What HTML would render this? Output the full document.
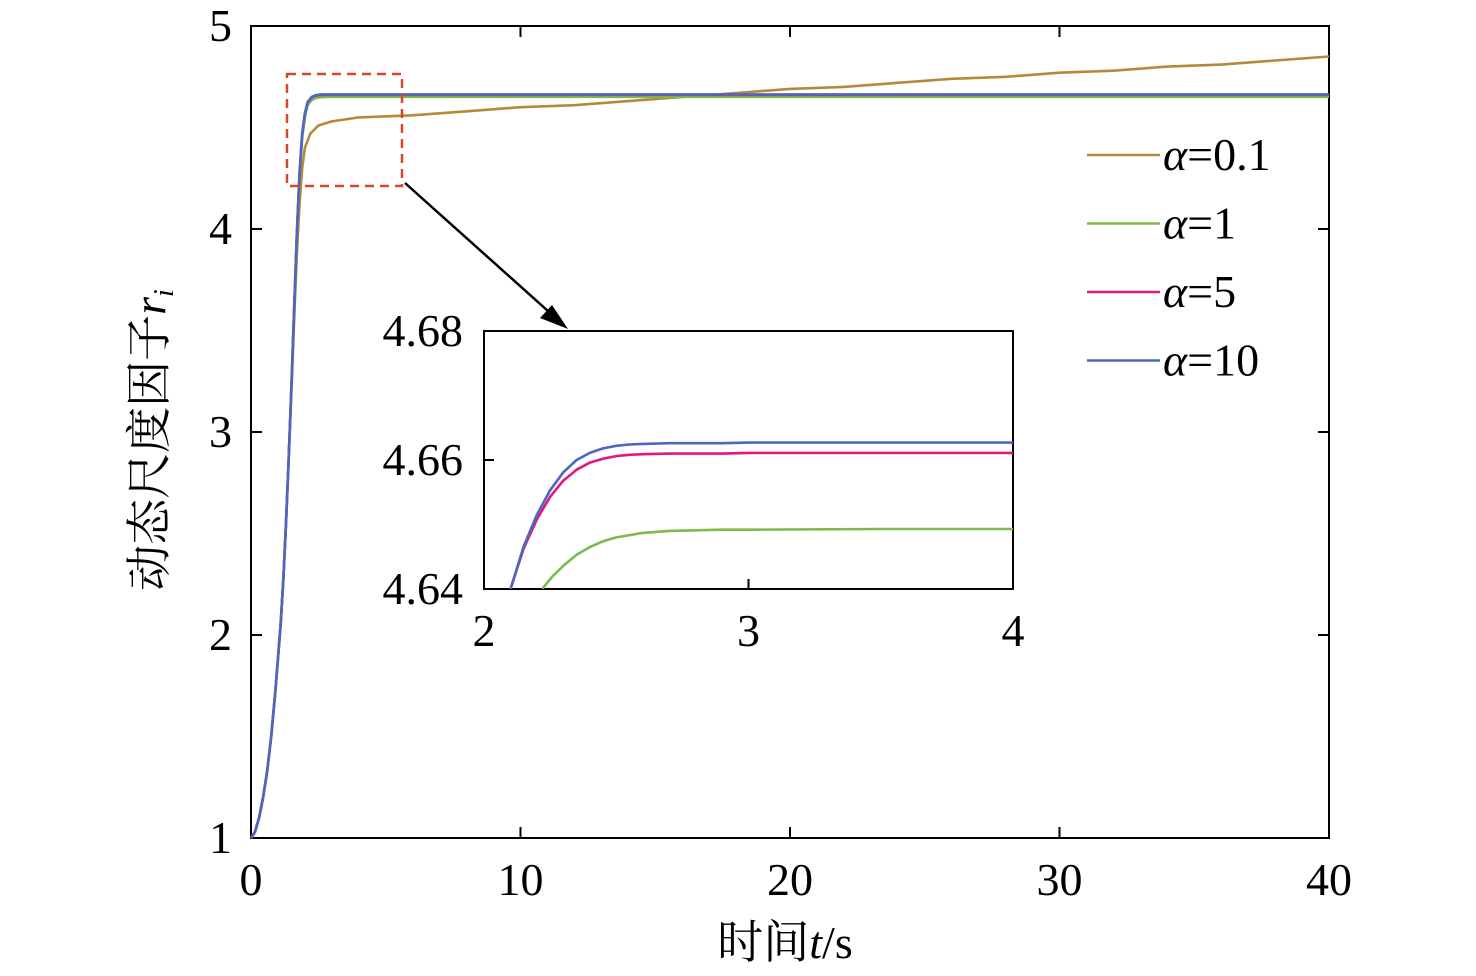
<!DOCTYPE html>
<html><head><meta charset="utf-8"><style>
body{margin:0;background:#fff;}
svg{display:block;font-family:"Liberation Serif","Noto Serif CJK SC",serif;}
</style></head><body>
<svg id="c" width="1476" height="976" xmlns="http://www.w3.org/2000/svg"></svg>
<script>
const mainT=[0,0.15,0.3,0.45,0.6,0.75,0.9,1.0,1.1,1.2,1.3,1.4,1.5,1.6,1.7,1.8,1.9,2.0,2.1,2.25,2.4,2.55,2.7,3,5,40];
const a10=[1,1.03,1.1,1.2,1.33,1.5,1.72,1.88,2.05,2.27,2.55,2.87,3.22,3.6,3.97,4.27,4.47,4.57,4.625,4.65,4.659,4.662,4.663,4.663,4.663,4.663];
const a5=[1,1.03,1.1,1.2,1.33,1.5,1.72,1.88,2.05,2.27,2.55,2.87,3.22,3.6,3.97,4.27,4.47,4.57,4.622,4.648,4.657,4.660,4.661,4.661,4.661,4.661];
const a1=[1,1.03,1.1,1.2,1.33,1.5,1.72,1.88,2.05,2.27,2.55,2.87,3.22,3.6,3.97,4.26,4.45,4.55,4.61,4.635,4.645,4.649,4.6505,4.651,4.651,4.651];
const t01=[0,0.15,0.3,0.45,0.6,0.75,0.9,1.0,1.1,1.2,1.3,1.4,1.5,1.6,1.7,1.8,1.9,2.0,2.2,2.5,3,4,6,8,10,12,14,16,18,20,22,24,26,28,30,32,34,36,38,40];
const a01=[1,1.03,1.1,1.2,1.33,1.5,1.72,1.88,2.05,2.27,2.55,2.87,3.2,3.55,3.87,4.12,4.3,4.4,4.47,4.51,4.53,4.55,4.56,4.58,4.6,4.61,4.63,4.65,4.67,4.69,4.7,4.72,4.74,4.75,4.77,4.78,4.8,4.81,4.83,4.85];
const insT=[2.1,2.15,2.2,2.25,2.3,2.35,2.4,2.45,2.5,2.55,2.6,2.7,2.8,2.9,3.0,3.5,4];
const ins10=[4.64,4.6466,4.6515,4.6553,4.6581,4.6600,4.6611,4.6618,4.6622,4.6624,4.6625,4.6626,4.6626,4.6626,4.6627,4.6627,4.6627];
const ins5=[4.64,4.6463,4.6508,4.6543,4.6568,4.6585,4.6596,4.6602,4.6606,4.6608,4.6609,4.6610,4.6610,4.6610,4.6611,4.6611,4.6611];
const ins1T=[2.22,2.26,2.3,2.35,2.4,2.45,2.5,2.6,2.7,2.8,2.9,3.0,3.5,4];
const ins1=[4.64,4.6420,4.6436,4.6453,4.6465,4.6474,4.6480,4.6487,4.6490,4.6491,4.6492,4.6492,4.6493,4.6493];
const xTicks=[0,10,20,30,40], yTicks=[1,2,3,4,5];
const ixTicks=[2,3,4], iyTicks=[4.64,4.66,4.68];
const colors={a01:"#b5893a",a1:"#7cba4a",a5:"#e0187f",a10:"#4a68bd"};
const names=["α=0.1","α=1","α=5","α=10"];
const svg=document.getElementById('c');const NS="http://www.w3.org/2000/svg";
function el(tag,attrs,parent){const e=document.createElementNS(NS,tag);for(const k in attrs)e.setAttribute(k,attrs[k]);(parent||svg).appendChild(e);return e;}
const X=t=>251+t/40*1078, Y=v=>838-(v-1)*203;
const IX=t=>484+(t-2)/2*529, IY=v=>589-(v-4.64)/0.04*258;
function path(xs,ys,fx,fy,col,name,clip){const d=xs.map((t,i)=>(i?"L":"M")+fx(t).toFixed(1)+","+fy(ys[i]).toFixed(1)).join("");
const p=el("path",{d:d,fill:"none",stroke:col,"stroke-width":2.6,"stroke-linejoin":"round"});


if(clip)p.setAttribute('clip-path',clip);return p;}
const frame=el("rect",{x:251,y:26,width:1078,height:812,fill:"none",stroke:"#000","stroke-width":2});


xTicks.forEach(t=>{el("line",{x1:X(t),y1:838,x2:X(t),y2:827,stroke:"#000","stroke-width":2});el("line",{x1:X(t),y1:26,x2:X(t),y2:37,stroke:"#000","stroke-width":2});
const tx=el("text",{x:X(t),y:895,"font-size":46,"text-anchor":"middle"});tx.textContent=t;

});
yTicks.forEach(v=>{el("line",{x1:251,y1:Y(v),x2:262,y2:Y(v),stroke:"#000","stroke-width":2});el("line",{x1:1329,y1:Y(v),x2:1318,y2:Y(v),stroke:"#000","stroke-width":2});
const tx=el("text",{x:232,y:Y(v)+15,"font-size":46,"text-anchor":"end"});tx.textContent=v;

});
path(t01,a01,X,Y,colors.a01,"series-alpha-0-1");
path(mainT,a1,X,Y,colors.a1,"series-alpha-1");
path(mainT,a5,X,Y,colors.a5,"series-alpha-5");
path(mainT,a10,X,Y,colors.a10,"series-alpha-10");
const xl=el("text",{x:785,y:958,"font-size":46,"text-anchor":"middle"});xl.innerHTML='时间<tspan font-style="italic">t</tspan>/s';


const yl=el("text",{x:0,y:0,"font-size":46,"text-anchor":"middle",transform:"translate(165,440) rotate(-90)"});yl.innerHTML='动态尺度因子<tspan font-style="italic">r</tspan><tspan font-style="italic" font-size="28" dy="8">i</tspan>';


[colors.a01,colors.a1,colors.a5,colors.a10].forEach((c,i)=>{const y=155+i*68.5;
const g=el("g",{});


el("line",{x1:1087,y1:y,x2:1160,y2:y,stroke:c,"stroke-width":2.6},g);
const t=el("text",{x:1163,y:y+15,"font-size":46},g);t.innerHTML='<tspan font-style="italic">α</tspan>'+names[i].slice(1);});
const zb=el("rect",{x:287,y:74,width:115,height:112,fill:"none",stroke:"#d9472b","stroke-width":2.5,"stroke-dasharray":"9,6"});


const ar=el("line",{x1:405,y1:183,x2:558,y2:320,stroke:"#000","stroke-width":2.5});


el("path",{d:"M568,329 L540,318 L552,305 Z",fill:"#000"});
el("defs",{}).innerHTML='<clipPath id="ic"><rect x="484" y="331" width="529" height="258"/></clipPath>';
const ib=el("rect",{x:484,y:331,width:529,height:258,fill:"#fff",stroke:"#000","stroke-width":2});


ixTicks.forEach(t=>{el("line",{x1:IX(t),y1:589,x2:IX(t),y2:579,stroke:"#000","stroke-width":2});
const tx=el("text",{x:IX(t),y:646,"font-size":46,"text-anchor":"middle"});tx.textContent=t;

});
iyTicks.forEach(v=>{el("line",{x1:484,y1:IY(v),x2:494,y2:IY(v),stroke:"#000","stroke-width":2});
const tx=el("text",{x:463,y:IY(v)+15,"font-size":46,"text-anchor":"end"});tx.textContent=v.toFixed(2);

});
path(ins1T,ins1,IX,IY,colors.a1,"inset-series-alpha-1","url(#ic)");
path(insT,ins5,IX,IY,colors.a5,"inset-series-alpha-5","url(#ic)");
path(insT,ins10,IX,IY,colors.a10,"inset-series-alpha-10","url(#ic)");
</script>
</body></html>
